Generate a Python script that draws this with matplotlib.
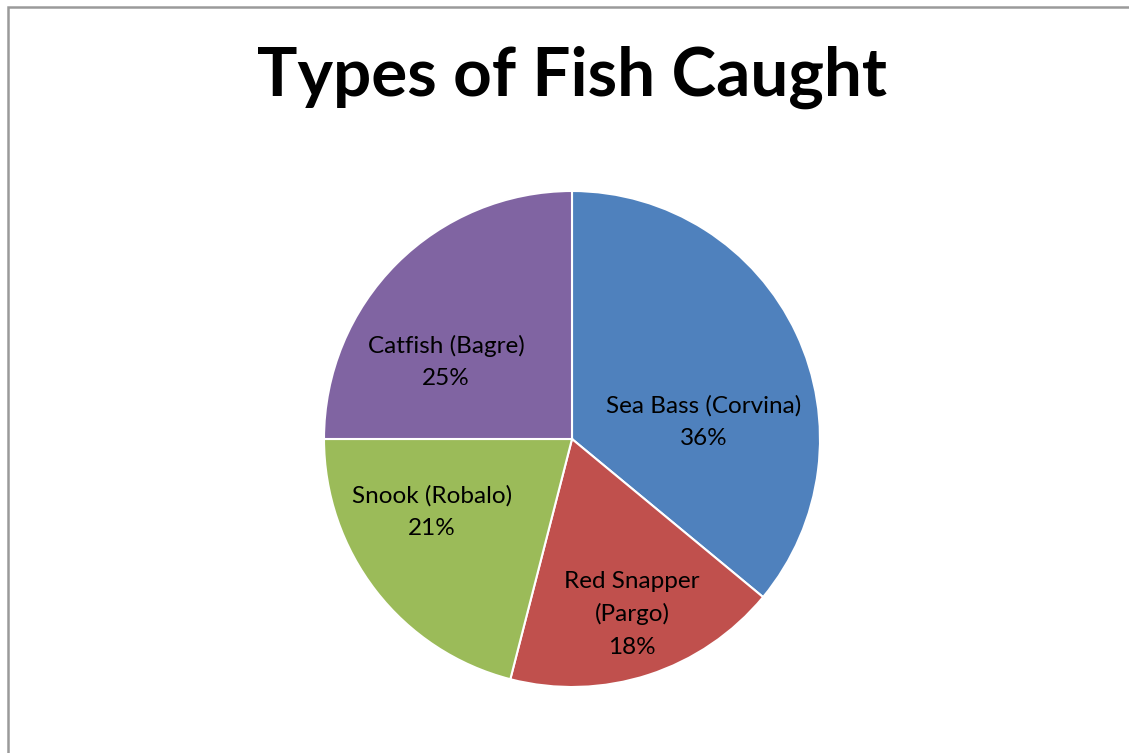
import matplotlib
matplotlib.use("Agg")
import matplotlib.pyplot as plt
from matplotlib.patches import Rectangle

# Catch breakdown
categories = ["Sea Bass (Corvina)", "Red Snapper\n(Pargo)", "Snook (Robalo)", "Catfish (Bagre)"]
shares = [36, 18, 21, 25]
colors = ["#4F81BD", "#C0504D", "#9BBB59", "#8064A2"]
title = "Types of Fish Caught"

# label anchor points, in units of the pie radius
label_xy = [(0.532, 0.069), (0.242, -0.706), (-0.565, -0.294), (-0.508, 0.310)]

W, H = 1129, 753
fig = plt.figure(figsize=(W / 100, H / 100), dpi=100)
fig.patch.set_facecolor("white")

# chart frame (left and top edges visible)
fig.patches.append(Rectangle((8 / W, -0.1), 1.2, (H - 7) / H + 0.1,
                             transform=fig.transFigure, fill=False,
                             edgecolor="#9a9a9a", linewidth=1.8))

cx, cy, r = 572, 439, 248
ax = fig.add_axes([(cx - r) / W, (H - cy - r) / H, 2 * r / W, 2 * r / H])

ax.pie(shares, colors=colors, startangle=90, counterclock=False, radius=1.0,
       wedgeprops=dict(edgecolor="white", linewidth=1.5))
ax.set_xlim(-1, 1)
ax.set_ylim(-1, 1)
ax.set_aspect("equal")
ax.axis("off")

for name, val, (x, y) in zip(categories, shares, label_xy):
    ax.text(x, y, f"{name}\n{val}%", ha="center", va="center",
            fontsize=17.5, family="Lato", color="black", linespacing=1.65)

fig.text(572 / W, (H - 77) / H, title, ha="center", va="center",
         fontsize=48.5, fontweight="bold", family="Lato", color="black")

fig.savefig("out.png", dpi=100, facecolor="white")
